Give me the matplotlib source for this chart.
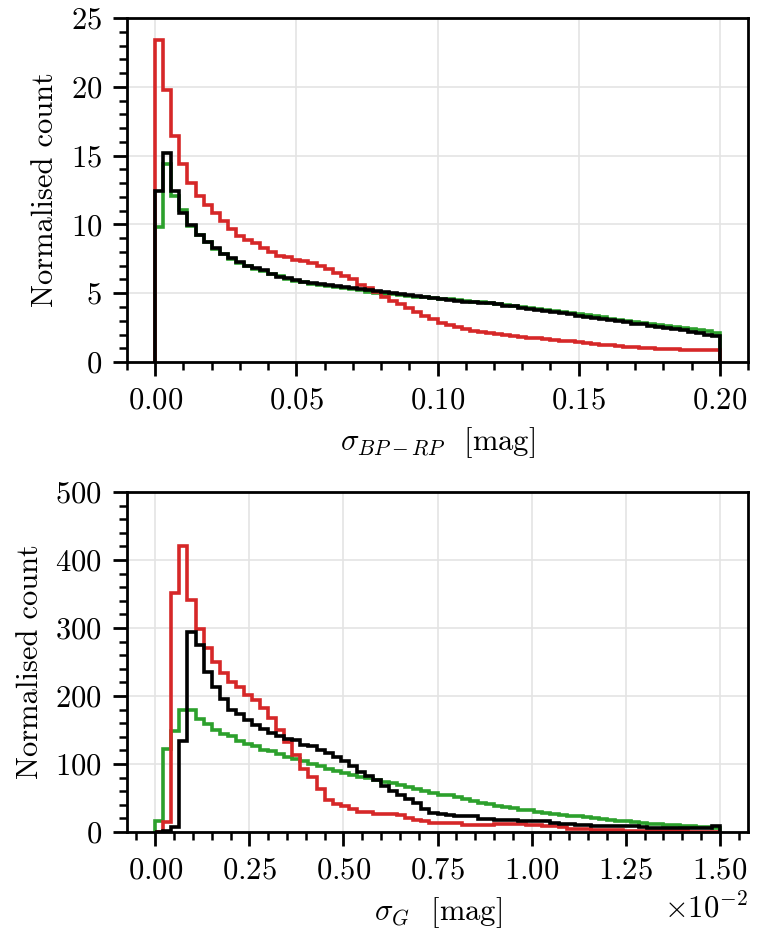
import numpy as np
import matplotlib
matplotlib.use('Agg')
import matplotlib.pyplot as plt
from matplotlib.ticker import MultipleLocator, AutoMinorLocator

# Histogram bins (70 equal bins in each panel)
n_bins = 70
top_range = (0.0, 0.2)
bot_range = (0.0, 0.015)

# Top panel: sigma_BP-RP normalised counts
top_green = [9.83, 14.4, 12.1, 11.05, 9.9, 9.2, 8.7, 8.22, 7.82, 7.5,
             7.22, 6.98, 6.78, 6.62, 6.4, 6.22, 6.05, 5.92, 5.8, 5.7,
             5.6, 5.5, 5.42, 5.35, 5.28, 5.2, 5.12, 5.05, 4.98, 4.92,
             4.86, 4.8, 4.75, 4.7, 4.65, 4.6, 4.55, 4.48, 4.42, 4.38,
             4.33, 4.28, 4.22, 4.15, 4.08, 4.0, 3.93, 3.85, 3.78, 3.7,
             3.62, 3.55, 3.47, 3.4, 3.32, 3.25, 3.15, 3.08, 3.0, 2.92,
             2.85, 2.77, 2.7, 2.62, 2.55, 2.48, 2.4, 2.32, 2.22, 2.13]
top_red = [23.4, 19.8, 16.4, 14.4, 13.0, 12.1, 11.4, 10.85, 10.27, 9.7,
           9.16, 8.87, 8.62, 8.3, 8.0, 7.7, 7.6, 7.45, 7.35, 7.2,
           7.0, 6.74, 6.49, 6.27, 6.01, 5.6, 5.35, 5.06, 4.75, 4.46,
           4.2, 3.9, 3.66, 3.34, 3.1, 2.81, 2.69, 2.52, 2.37, 2.28,
           2.16, 2.08, 2.01, 1.96, 1.9, 1.84, 1.77, 1.72, 1.67, 1.6,
           1.55, 1.5, 1.43, 1.38, 1.31, 1.27, 1.22, 1.17, 1.11, 1.08,
           1.04, 1.0, 0.97, 0.95, 0.93, 0.91, 0.9, 0.89, 0.88, 0.87]
top_black = [12.4, 15.2, 12.4, 10.8, 9.96, 9.23, 8.74, 8.26, 7.85, 7.53,
             7.24, 7.0, 6.81, 6.69, 6.4, 6.2, 6.08, 5.96, 5.85, 5.75,
             5.65, 5.57, 5.5, 5.42, 5.36, 5.3, 5.22, 5.15, 5.08, 5.0,
             4.94, 4.88, 4.8, 4.72, 4.65, 4.58, 4.52, 4.45, 4.38, 4.35,
             4.31, 4.3, 4.2, 4.1, 4.05, 3.95, 3.88, 3.8, 3.72, 3.62,
             3.55, 3.47, 3.38, 3.3, 3.22, 3.12, 3.05, 2.97, 2.9, 2.8,
             2.74, 2.65, 2.56, 2.48, 2.38, 2.3, 2.2, 2.1, 2.0, 1.88]

# Bottom panel: sigma_G normalised counts
bot_green = [15.7, 122.6, 148.6, 179, 180, 166.7, 158.4, 149.6, 144.7, 140.7,
             133.8, 130, 126, 121.2, 118.7, 115.3, 110.3, 107, 104, 100,
             97, 93, 90, 87, 84, 81, 79, 76, 74, 72,
             69, 66, 63, 61, 58, 55, 54, 51, 49, 46,
             43, 41, 39, 37, 35, 33, 32, 30, 28, 27,
             25.5, 24, 23, 21.5, 20, 19, 17.5, 16.5, 15.5, 14.5,
             13.5, 12.5, 11.5, 11, 10, 9, 8.5, 7.5, 7, 6.5]
bot_red = [0, 15, 351, 420, 341, 299, 270, 250, 234, 221,
           213, 201, 194, 182, 167, 150, 132, 113, 92, 81,
           64, 47, 41, 39, 34, 30, 29, 27, 27, 26,
           25.5, 21, 17, 16, 14, 14, 13.5, 13, 11, 11,
           10.5, 11, 11.5, 12.5, 12, 12, 11, 10, 9.5, 9,
           7.5, 5, 4.5, 4.5, 3.5, 3, 2.5, 2.5, 2, 2,
           1.5, 1.2, 1, 1, 0.8, 0.8, 0.7, 0.6, 0.5, 0.5]
bot_black = [0, 2, 7, 134, 294, 275, 235, 213, 195, 180,
             173, 165, 158, 152, 145, 141, 137, 135, 128, 127,
             121, 116, 111, 104, 97, 89, 82, 76, 68, 60,
             55, 49, 42, 34, 28, 27, 25, 24, 24, 23,
             19, 18.5, 18, 18, 17, 16.5, 16, 16, 15.5, 13,
             12.5, 12, 10, 10, 9.5, 9, 8.8, 8.8, 8.6, 8.5,
             8, 6.5, 6, 6, 6, 5.8, 5.8, 5.8, 6, 9.5]

plt.rcParams['font.family'] = 'serif'
plt.rcParams['font.serif'] = ['cmr10']
plt.rcParams['mathtext.fontset'] = 'cm'
plt.rcParams['axes.formatter.use_mathtext'] = True
plt.rcParams['axes.unicode_minus'] = False
plt.rcParams['font.size'] = 11

fig = plt.figure(figsize=(3.86, 4.735), dpi=200)
ax1 = fig.add_axes([0.1645, 0.6177, 0.8045, 0.3633])
ax2 = fig.add_axes([0.1645, 0.1214, 0.8045, 0.3591])

top_edges = np.linspace(top_range[0], top_range[1], n_bins + 1)
bot_edges = np.linspace(bot_range[0], bot_range[1], n_bins + 1)

for ax, edges, g, r, k in [(ax1, top_edges, top_green, top_red, top_black),
                           (ax2, bot_edges, bot_green, bot_red, bot_black)]:
    ax.stairs(g, edges, color='#2ca02c', lw=1.3, baseline=0)
    ax.stairs(r, edges, color='#d62728', lw=1.3, baseline=0)
    ax.stairs(k, edges, color='black', lw=1.3, baseline=0)
    ax.grid(True, color='#e4e4e4', lw=0.6)
    ax.set_axisbelow(True)
    ax.xaxis.set_minor_locator(AutoMinorLocator())
    ax.yaxis.set_minor_locator(AutoMinorLocator())
    ax.tick_params(which='major', direction='out', length=5, width=1.0, pad=4)
    ax.tick_params(which='minor', direction='out', length=2.8, width=0.9)
    for s in ax.spines.values():
        s.set_linewidth(1.0)
    ax.set_ylabel('Normalised count')

ax1.set_xlim(-0.01, 0.21)
ax1.set_ylim(0, 25)
ax1.xaxis.set_major_locator(MultipleLocator(0.05))
ax1.yaxis.set_major_locator(MultipleLocator(5))
ax1.set_xlabel(r'$\sigma_{BP-RP}$  [mag]')

ax2.set_xlim(-0.00075, 0.01575)
ax2.set_ylim(0, 500)
ax2.xaxis.set_major_locator(MultipleLocator(0.0025))
ax2.yaxis.set_major_locator(MultipleLocator(100))
ax2.ticklabel_format(axis='x', style='sci', scilimits=(0, 0))
ax2.set_xlabel(r'$\sigma_{G}$  [mag]')

fig.savefig('out.png', dpi=200)
